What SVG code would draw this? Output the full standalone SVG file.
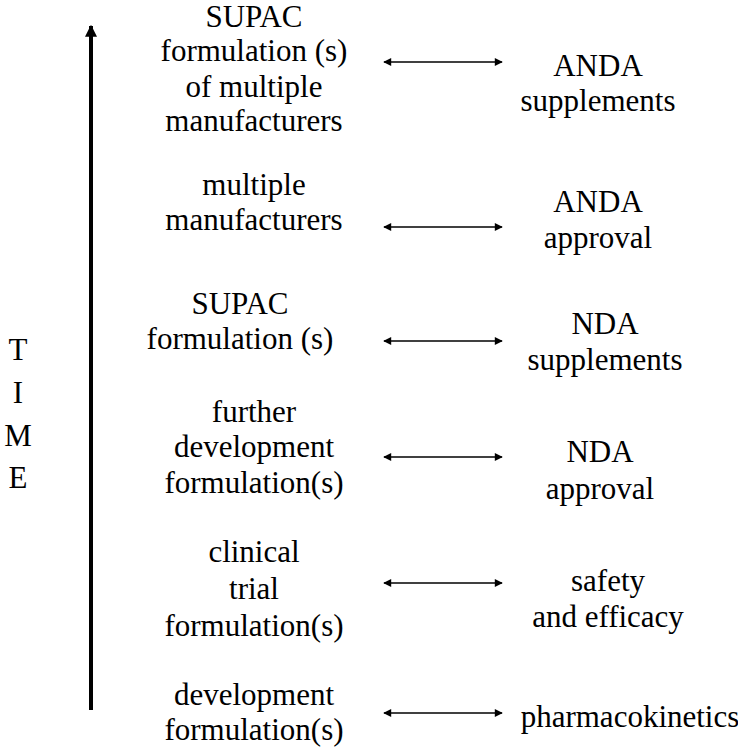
<svg xmlns="http://www.w3.org/2000/svg" width="738" height="751" viewBox="0 0 738 751">
<defs>
<marker id="ah" viewBox="0 0 10 10" refX="9" refY="5" markerWidth="10" markerHeight="8" markerUnits="userSpaceOnUse" orient="auto-start-reverse"><path d="M0,0 L10,5 L0,10 z" fill="#000"/></marker>
<marker id="big" viewBox="0 0 10 10" refX="9" refY="5" markerWidth="3" markerHeight="3.5" orient="auto"><path d="M0,0 L10,5 L0,10 z" fill="#000"/></marker>
</defs>
<g id="time-axis">
<line x1="91" y1="710" x2="91" y2="26" stroke="#000" stroke-width="4" marker-end="url(#big)"/>
<text x="18" y="360" font-family="Liberation Serif" font-size="31" text-anchor="middle">T</text>
<text x="18" y="403" font-family="Liberation Serif" font-size="31" text-anchor="middle">I</text>
<text x="18" y="446" font-family="Liberation Serif" font-size="31" text-anchor="middle">M</text>
<text x="18" y="488" font-family="Liberation Serif" font-size="31" text-anchor="middle">E</text>
</g>
<g id="n1">
<text x="254" y="27" font-family="Liberation Serif" font-size="31" text-anchor="middle">SUPAC</text>
<text x="254" y="61" font-family="Liberation Serif" font-size="31" text-anchor="middle">formulation (s)</text>
<text x="254" y="97" font-family="Liberation Serif" font-size="31" text-anchor="middle">of multiple</text>
<text x="254" y="131" font-family="Liberation Serif" font-size="31" text-anchor="middle">manufacturers</text>
</g>
<g id="n2">
<text x="254" y="195" font-family="Liberation Serif" font-size="31" text-anchor="middle">multiple</text>
<text x="254" y="230" font-family="Liberation Serif" font-size="31" text-anchor="middle">manufacturers</text>
</g>
<g id="n3">
<text x="240" y="314" font-family="Liberation Serif" font-size="31" text-anchor="middle">SUPAC</text>
<text x="240" y="349" font-family="Liberation Serif" font-size="31" text-anchor="middle">formulation (s)</text>
</g>
<g id="n4">
<text x="254" y="422" font-family="Liberation Serif" font-size="31" text-anchor="middle">further</text>
<text x="254" y="457" font-family="Liberation Serif" font-size="31" text-anchor="middle">development</text>
<text x="254" y="493" font-family="Liberation Serif" font-size="31" text-anchor="middle">formulation(s)</text>
</g>
<g id="n5">
<text x="254" y="562" font-family="Liberation Serif" font-size="31" text-anchor="middle">clinical</text>
<text x="254" y="599" font-family="Liberation Serif" font-size="31" text-anchor="middle">trial</text>
<text x="254" y="636" font-family="Liberation Serif" font-size="31" text-anchor="middle">formulation(s)</text>
</g>
<g id="n6">
<text x="254" y="705" font-family="Liberation Serif" font-size="31" text-anchor="middle">development</text>
<text x="254" y="740" font-family="Liberation Serif" font-size="31" text-anchor="middle">formulation(s)</text>
</g>
<g id="r1">
<text x="598" y="76" font-family="Liberation Serif" font-size="31" text-anchor="middle">ANDA</text>
<text x="598" y="111" font-family="Liberation Serif" font-size="31" text-anchor="middle">supplements</text>
</g>
<g id="r2">
<text x="598" y="212" font-family="Liberation Serif" font-size="31" text-anchor="middle">ANDA</text>
<text x="598" y="248" font-family="Liberation Serif" font-size="31" text-anchor="middle">approval</text>
</g>
<g id="r3">
<text x="605" y="334" font-family="Liberation Serif" font-size="31" text-anchor="middle">NDA</text>
<text x="605" y="370" font-family="Liberation Serif" font-size="31" text-anchor="middle">supplements</text>
</g>
<g id="r4">
<text x="600" y="462" font-family="Liberation Serif" font-size="31" text-anchor="middle">NDA</text>
<text x="600" y="499" font-family="Liberation Serif" font-size="31" text-anchor="middle">approval</text>
</g>
<g id="r5">
<text x="608" y="591" font-family="Liberation Serif" font-size="31" text-anchor="middle">safety</text>
<text x="608" y="627" font-family="Liberation Serif" font-size="31" text-anchor="middle">and efficacy</text>
</g>
<g id="r6">
<text x="630" y="727" font-family="Liberation Serif" font-size="31" text-anchor="middle">pharmacokinetics</text>
</g>
<g id="connectors" stroke="#000" stroke-width="1.6" fill="none" marker-start="url(#ah)" marker-end="url(#ah)">
<line x1="384" y1="62" x2="502" y2="62"/>
<line x1="384" y1="227" x2="502" y2="227"/>
<line x1="384" y1="341" x2="502" y2="341"/>
<line x1="384" y1="457" x2="502" y2="457"/>
<line x1="384" y1="583" x2="502" y2="583"/>
<line x1="384" y1="713" x2="502" y2="713"/>
</g>
</svg>
